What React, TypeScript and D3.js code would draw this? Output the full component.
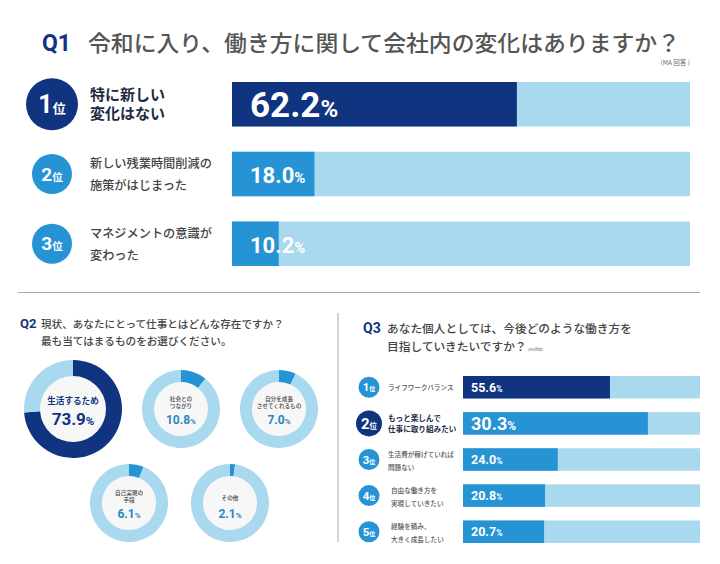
import React from 'react';
import * as d3 from 'd3';

const NAVY = '#10347f';
const BLUE = '#2694d4';
const LIGHT = '#a9d9ef';
const JP = "'Noto Sans CJK JP', 'Noto Sans', sans-serif";
const NUM = "Roboto, 'Noto Sans CJK JP', sans-serif";

const q1Title = '令和に入り、働き方に関して会社内の変化はありますか？';
const q1Ranks = ['1', '2', '3'];
const q1Labels = [
  ['特に新しい', '変化はない'],
  ['新しい残業時間削減の', '施策がはじまった'],
  ['マネジメントの意識が', '変わった'],
];
const q1Values = [62.2, 18.0, 10.2];

const q2Title = ['現状、あなたにとって仕事とはどんな存在ですか？', '最も当てはまるものをお選びください。'];
const q2Labels = [
  ['生活するため'],
  ['社会との', 'つながり'],
  ['自分を成長', 'させてくれるもの'],
  ['自己実現の', '手段'],
  ['その他'],
];
const q2Values = [73.9, 10.8, 7.0, 6.1, 2.1];

const q3Title = ['あなた個人としては、今後どのような働き方を', '目指していきたいですか？'];
const q3Ranks = ['1', '2', '3', '4', '5'];
const q3Labels = [
  ['ライフワークバランス'],
  ['もっと楽しんで', '仕事に取り組みたい'],
  ['生活費が稼げていれば', '問題ない'],
  ['自由な働き方を', '実現していきたい'],
  ['経験を積み、', '大きく成長したい'],
];
const q3Values = [55.6, 30.3, 24.0, 20.8, 20.7];
// bar lengths as drawn in the infographic (% of the track)
const q3BarLength = [62, 78, 40, 34.6, 34.2];

function Q1() {
  const x = d3.scaleLinear().domain([0, 100]).range([232, 690]);
  const y = d3.scaleBand<number>().domain(q1Values.map((_, i) => i)).range([82, 266]).paddingInner(0.362);
  return (
    <g>
      <text x={42} y={51} fontFamily={NUM} fontWeight={700} fontSize={23} fill={NAVY}>Q1</text>
      <text x={88} y={51} fontFamily={JP} fontWeight={500} fontSize={22} fill="#555" textLength={592} lengthAdjust="spacingAndGlyphs">{q1Title}</text>
      <text x={690} y={65} textAnchor="end" fontFamily={JP} fontSize={6.5} fill="#666">(MA 回答 )</text>
      {q1Values.map((v, i) => {
        const y0 = y(i)!;
        const bw = y.bandwidth();
        const cy = y0 + bw / 2;
        const first = i === 0;
        const r = first ? 26 : 20;
        return (
          <g key={i}>
            <rect x={x(0)} y={y0} width={x(100) - x(0)} height={bw} fill={LIGHT} />
            <rect x={x(0)} y={y0} width={x(v) - x(0)} height={bw} fill={first ? NAVY : BLUE} />
            <circle cx={52} cy={cy} r={r} fill={first ? NAVY : BLUE} />
            <text x={52} y={cy + (first ? 8.5 : 6.5)} textAnchor="middle" fill="#fff" fontFamily={NUM} fontWeight={700}>
              <tspan fontSize={first ? 25 : 19}>{q1Ranks[i]}</tspan>
              <tspan fontSize={first ? 13 : 10.5} fontFamily={JP}>位</tspan>
            </text>
            {q1Labels[i].map((l, j) => (
              <text key={j} x={90} y={first ? cy - 4 + j * 19 : cy - 6 + j * 22}
                fontFamily={JP} fontWeight={first ? 700 : 500} fontSize={first ? 15 : 12.2}
                fill={first ? '#1f2a44' : '#444'}>{l}</text>
            ))}
            <text x={250} y={first ? cy + 13 : cy + 9} fill="#fff" fontFamily={NUM} fontWeight={700}>
              <tspan fontSize={first ? 35 : 22}>{v.toFixed(1)}</tspan>
              <tspan fontSize={first ? 24 : 15}>%</tspan>
            </text>
          </g>
        );
      })}
    </g>
  );
}

function Q2() {
  const slots = [
    { cx: 73, cy: 409, ro: 49, ri: 33 },
    { cx: 181, cy: 409, ro: 39, ri: 27 },
    { cx: 279, cy: 409, ro: 39, ri: 27 },
    { cx: 129, cy: 503, ro: 39, ri: 27 },
    { cx: 230, cy: 503, ro: 39, ri: 27 },
  ];
  const pie = d3.pie<number>().sort(null).value(d => d);
  return (
    <g>
      <text x={20} y={328} fontFamily={NUM} fontWeight={700} fontSize={13} fill={NAVY}>Q2</text>
      {q2Title.map((t, j) => (
        <text key={j} x={41} y={328 + j * 17} fontFamily={JP} fontWeight={500} fontSize={10.6} fill="#444">{t}</text>
      ))}
      {q2Values.map((v, i) => {
        const s = slots[i];
        const big = i === 0;
        const arc = d3.arc<d3.PieArcDatum<number>>().innerRadius(s.ri).outerRadius(s.ro);
        const arcs = pie([v, 100 - v]);
        const lines = q2Labels[i];
        return (
          <g key={i} transform={`translate(${s.cx},${s.cy})`}>
            <circle r={s.ri} fill="#f7f7f8" />
            {arcs.map((a, k) => (
              <path key={k} d={arc(a)!} fill={k === 0 ? (big ? NAVY : BLUE) : LIGHT} />
            ))}
            {big ? (
              <>
                <text y={-5} textAnchor="middle" fontFamily={JP} fontWeight={700} fontSize={8.6} fill={NAVY}>{lines[0]}</text>
                <text y={16} textAnchor="middle" fontFamily={NUM} fontWeight={700} fill={NAVY}>
                  <tspan fontSize={17}>{v.toFixed(1)}</tspan><tspan fontSize={11.5}>%</tspan>
                </text>
              </>
            ) : (
              <>
                {lines.map((l, j) => (
                  <text key={j} y={(lines.length === 1 ? -3 : -8) + j * 7.4} textAnchor="middle" fontFamily={JP} fontWeight={500} fontSize={5.6} fill="#444">{l}</text>
                ))}
                <text y={15} textAnchor="middle" fontFamily={NUM} fontWeight={700} fill="#2a86c2">
                  <tspan fontSize={12}>{v.toFixed(1)}</tspan><tspan fontSize={8}>%</tspan>
                </text>
              </>
            )}
          </g>
        );
      })}
    </g>
  );
}

function Q3() {
  const x = d3.scaleLinear().domain([0, 100]).range([463, 700]);
  const y = d3.scaleBand<number>().domain(q3Values.map((_, i) => i)).range([376, 543]).paddingInner(0.377);
  return (
    <g>
      <text x={363} y={333} fontFamily={NUM} fontWeight={700} fontSize={14} fill={NAVY}>Q3</text>
      {q3Title.map((t, j) => (
        <text key={j} x={387} y={333 + j * 18} fontFamily={JP} fontWeight={500} fontSize={11.7} fill="#444">{t}</text>
      ))}
      <text x={528} y={351} fontFamily={JP} fontSize={3.8} fill="#666">(MA回答)</text>
      {q3Values.map((v, i) => {
        const y0 = y(i)!;
        const bw = y.bandwidth();
        const cy = y0 + bw / 2;
        const hi = i === 1;
        const top = i === 0;
        const lines = q3Labels[i];
        return (
          <g key={i}>
            <rect x={x(0)} y={y0} width={x(100) - x(0)} height={bw} fill={LIGHT} />
            <rect x={x(0)} y={y0} width={x(q3BarLength[i]) - x(0)} height={bw} fill={top ? NAVY : BLUE} />
            <circle cx={369} cy={cy} r={hi ? 13 : 10.5} fill={hi ? NAVY : BLUE} />
            <text x={369} y={cy + (hi ? 5.5 : 4)} textAnchor="middle" fill="#fff" fontFamily={NUM} fontWeight={700}>
              <tspan fontSize={hi ? 15 : 11.5}>{q3Ranks[i]}</tspan>
              <tspan fontSize={hi ? 7.5 : 6} fontFamily={JP}>位</tspan>
            </text>
            {lines.map((l, j) => (
              <text key={j} x={hi ? 388 : (i >= 3 ? 391 : 388)}
                y={lines.length === 1 ? cy + 2.5 : (hi ? cy - 2 + j * 11 : cy - 3 + j * 13)}
                fontFamily={JP} fontWeight={hi ? 700 : 500} fontSize={hi ? 7.6 : 6.6}
                fill={hi ? '#1f2a44' : '#555'}>{l}</text>
            ))}
            <text x={471} y={cy + (hi ? 6.5 : 4.5)} fill="#fff" fontFamily={NUM} fontWeight={700}>
              <tspan fontSize={hi ? 18 : 12.5}>{v.toFixed(1)}</tspan>
              <tspan fontSize={hi ? 12 : 8.5}>%</tspan>
            </text>
          </g>
        );
      })}
    </g>
  );
}

export default function App() {
  return (
    <svg width={720} height={564} viewBox="0 0 720 564"
      style={{ position: 'absolute', left: 0, top: 0, background: '#fff' }}>
      <rect width={720} height={564} fill="#fff" />
      <Q1 />
      <line x1={18} x2={700} y1={292.5} y2={292.5} stroke="#a8a8a8" strokeWidth={1.2} />
      <line x1={338} x2={338} y1={313} y2={542} stroke="#a8a8a8" strokeWidth={1} />
      <Q2 />
      <Q3 />
    </svg>
  );
}
